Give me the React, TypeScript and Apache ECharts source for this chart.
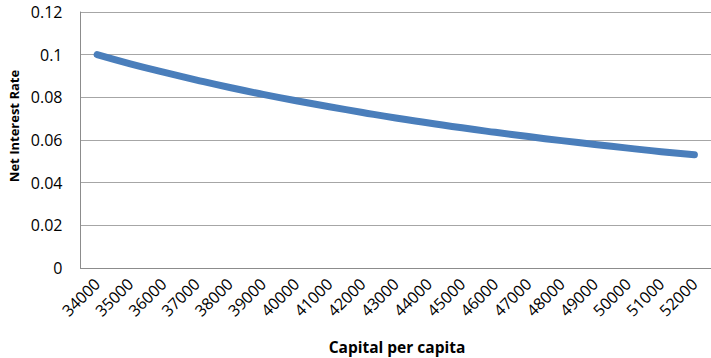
import React, { useEffect, useRef } from "react";
import * as echarts from "echarts";

// Capital per capita (x categories)
const capital: string[] = [
  "34000", "35000", "36000", "37000", "38000", "39000", "40000",
  "41000", "42000", "43000", "44000", "45000", "46000", "47000",
  "48000", "49000", "50000", "51000", "52000",
];

// Net interest rate at each capital level
const netInterestRate: number[] = [
  0.1, 0.0957, 0.0918, 0.0881, 0.0846, 0.0814, 0.0784,
  0.0756, 0.0729, 0.0703, 0.068, 0.0657, 0.0636, 0.0616,
  0.0597, 0.0579, 0.0562, 0.0545, 0.0531,
];

const xTitle = "Capital per capita";
const yTitle = "Net Interest Rate";

const FONT = "'Open Sans', 'Liberation Sans', sans-serif";

export default function App() {
  const ref = useRef<HTMLDivElement>(null);

  useEffect(() => {
    if (!ref.current) return;
    const chart = echarts.init(ref.current, null, { renderer: "svg" });
    chart.setOption({
      animation: false,
      backgroundColor: "#ffffff",
      grid: { left: 80.5, right: 0, top: 12, bottom: 90, containLabel: false },
      xAxis: {
        type: "category",
        data: capital,
        boundaryGap: true,
        axisLine: { show: true, lineStyle: { color: "#8c8c8c", width: 1 } },
        axisTick: { show: false },
        axisLabel: {
          rotate: 45,
          interval: 0,
          margin: 13,
          fontFamily: FONT,
          fontSize: 16,
          color: "#000",
        },
      },
      yAxis: {
        type: "value",
        min: 0,
        max: 0.12,
        interval: 0.02,
        axisLine: { show: true, lineStyle: { color: "#8c8c8c", width: 1 } },
        axisTick: { show: false },
        splitLine: { show: true, lineStyle: { color: "#a6a6a6", width: 1 } },
        axisLabel: {
          margin: 18,
          fontFamily: FONT,
          fontSize: 16,
          color: "#000",
          formatter: (v: number) => String(parseFloat(v.toFixed(2))),
        },
      },
      graphic: [
        {
          type: "text",
          x: 397,
          y: 347,
          style: {
            text: xTitle,
            font: `bold 15.5px ${FONT}`,
            fill: "#000",
            align: "center",
            verticalAlign: "middle",
          },
        },
        {
          type: "text",
          x: 14,
          y: 126,
          rotation: Math.PI / 2,
          style: {
            text: yTitle,
            font: `bold 13px ${FONT}`,
            fill: "#000",
            align: "center",
            verticalAlign: "middle",
          },
        },
      ],
      series: [
        {
          type: "line",
          data: netInterestRate,
          showSymbol: false,
          smooth: true,
          lineStyle: { color: "#4a7ebb", width: 7, cap: "round", join: "round" },
        },
      ],
    });
    return () => chart.dispose();
  }, []);

  return (
    <div
      ref={ref}
      style={{ position: "fixed", left: 0, top: 0, width: 711, height: 358 }}
    />
  );
}
